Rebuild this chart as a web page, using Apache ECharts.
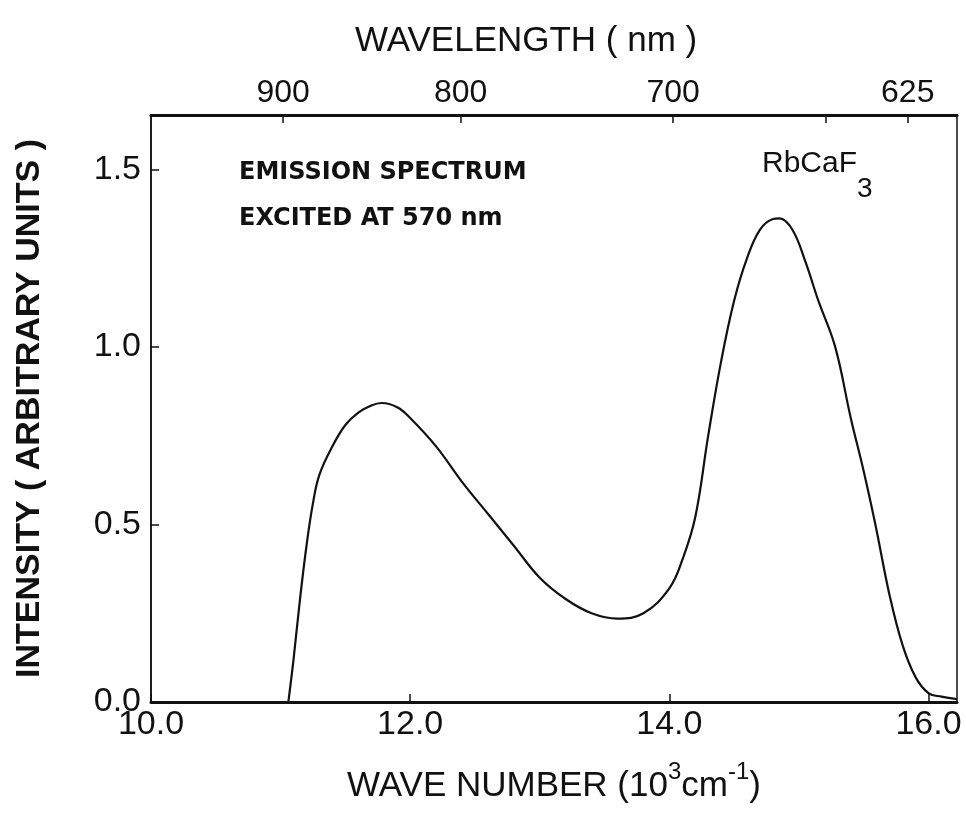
<!DOCTYPE html>
<html>
<head>
<meta charset="utf-8">
<script src="https://cdn.jsdelivr.net/npm/echarts@6/dist/echarts.min.js"></script>
<style>html,body{margin:0;padding:0;background:#fff;}#c{width:966px;height:825px;}</style>
</head>
<body>
<div id="c"></div>
<script>
// Emission spectrum of RbCaF3
const waveNumber = [11.06, 11.10, 11.15, 11.20, 11.25, 11.30, 11.40, 11.50, 11.60, 11.70, 11.78, 11.90, 12.00, 12.20, 12.40, 12.60, 12.80, 13.00, 13.20, 13.40, 13.60, 13.80, 14.00, 14.10, 14.20, 14.30, 14.40, 14.50, 14.60, 14.70, 14.80, 14.85, 14.95, 15.05, 15.15, 15.28, 15.40, 15.50, 15.59, 15.70, 15.80, 15.90, 16.00, 16.10, 16.22];
const intensity  = [0.00, 0.12, 0.29, 0.44, 0.56, 0.64, 0.72, 0.78, 0.815, 0.835, 0.842, 0.83, 0.80, 0.72, 0.62, 0.53, 0.44, 0.35, 0.29, 0.25, 0.235, 0.25, 0.32, 0.40, 0.52, 0.75, 0.96, 1.13, 1.25, 1.33, 1.36, 1.362, 1.33, 1.24, 1.13, 1.00, 0.80, 0.65, 0.50, 0.30, 0.16, 0.07, 0.025, 0.015, 0.008];

const bottomTicks = [10, 12, 14, 16];
const yTicks = [0, 0.5, 1.0, 1.5];
const topTickLabels = ['900', '800', '700', '', '625'];
const topTickPos = [11.02, 12.39, 14.03, 15.21, 15.84];

const X_MIN = 10, X_MAX = 16.22, Y_MAX = 1.653;

const chart = echarts.init(document.getElementById('c'));
const font = '"Liberation Sans", Arial, Helvetica, sans-serif';

chart.setOption({
  animation: false,
  backgroundColor: '#fff',
  title: {
    text: 'WAVELENGTH ( nm )',
    left: 350, top: 19,
    textStyle: { fontFamily: font, fontSize: 35, fontWeight: 'normal', color: '#111' }
  },
  grid: { left: 151, right: 9, top: 115, bottom: 123, show: true, borderColor: '#111', borderWidth: 1.5 },
  xAxis: [{
    type: 'value', position: 'bottom', min: X_MIN, max: X_MAX,
    axisLine: { show: true, lineStyle: { color: '#111', width: 3 } },
    axisTick: { show: true, inside: true, length: 8, customValues: bottomTicks, lineStyle: { color: '#111', width: 1.5 } },
    axisLabel: { customValues: bottomTicks, margin: 6, fontFamily: font, fontSize: 34, color: '#111',
      formatter: v => v.toFixed(1) },
    splitLine: { show: false },
    name: '{t|WAVE NUMBER (10}{s|3}{t|cm}{s|-1}{t|)}',
    nameLocation: 'middle', nameGap: 58,
    nameTextStyle: {
      rich: {
        t: { fontFamily: font, fontSize: 35, color: '#111', verticalAlign: 'bottom', lineHeight: 44 },
        s: { fontFamily: font, fontSize: 24, color: '#111', verticalAlign: 'top', lineHeight: 44, padding: [0, 0, 20, 0] }
      }
    }
  }, {
    type: 'value', position: 'top', min: X_MIN, max: X_MAX,
    axisLine: { show: true, lineStyle: { color: '#111', width: 3 } },
    axisTick: { show: true, inside: true, length: 8, customValues: topTickPos, lineStyle: { color: '#111', width: 1.5 } },
    axisLabel: { customValues: topTickPos, margin: 6, fontFamily: font, fontSize: 32, color: '#111',
      formatter: v => { const i = topTickPos.indexOf(v); return i >= 0 ? topTickLabels[i] : ''; } },
    splitLine: { show: false }
  }],
  yAxis: [{
    type: 'value', min: 0, max: Y_MAX,
    axisLine: { show: true, lineStyle: { color: '#111', width: 1.5 } },
    axisTick: { show: true, inside: true, length: 8, customValues: yTicks, lineStyle: { color: '#111', width: 1.5 } },
    axisLabel: { customValues: yTicks, margin: 10, fontFamily: font, fontSize: 34, color: '#111',
      formatter: v => v.toFixed(1) },
    splitLine: { show: false },
    name: 'INTENSITY ( ARBITRARY UNITS )',
    nameLocation: 'middle', nameGap: 104, nameRotate: 90,
    nameTextStyle: { fontFamily: font, fontSize: 34, fontWeight: 'bold', color: '#111' }
  }],
  graphic: [
    { type: 'text', left: 239, top: 161, style: { text: 'EMISSION SPECTRUM', font: 'bold 24px "DejaVu Sans", sans-serif', fill: '#111' } },
    { type: 'text', left: 239, top: 207, style: { text: 'EXCITED AT 570 nm', font: 'bold 24px "DejaVu Sans", sans-serif', fill: '#111' } },
    { type: 'text', left: 762, top: 149, style: {
        rich: {
          m: { fontFamily: font, fontSize: 30, fill: '#111', verticalAlign: 'top' },
          b: { fontFamily: font, fontSize: 28, fill: '#111', padding: [26, 0, 0, 0] }
        },
        text: '{m|RbCaF}{b|3}' } }
  ],
  series: [{
    type: 'line',
    xAxisIndex: 0, yAxisIndex: 0,
    data: waveNumber.map((x, i) => [x, intensity[i]]),
    smooth: 0.4,
    showSymbol: false,
    lineStyle: { color: '#111', width: 2.2 }
  }]
});
</script>
</body>
</html>
